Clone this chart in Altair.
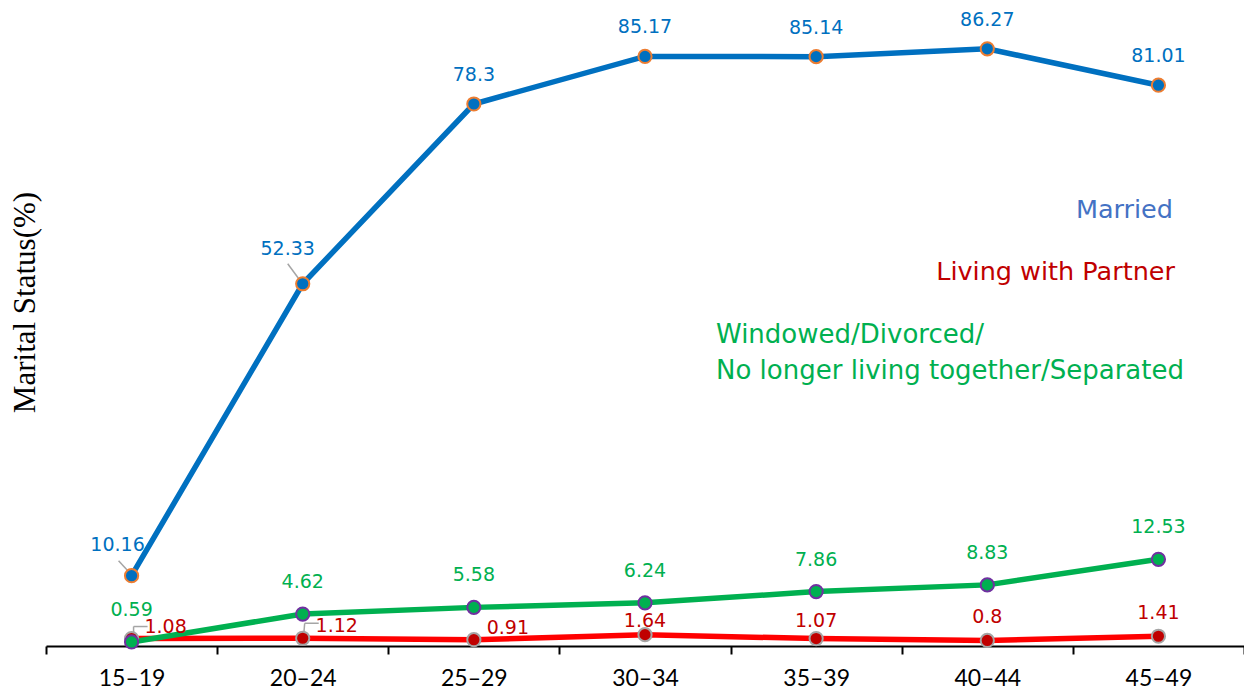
import altair as alt
import pandas as pd

categories = ["15–19", "20–24", "25–29", "30–34", "35–39", "40–44", "45–49"]
married = [10.16, 52.33, 78.3, 85.17, 85.14, 86.27, 81.01]
partner = [1.08, 1.12, 0.91, 1.64, 1.07, 0.8, 1.41]
separated = [0.59, 4.62, 5.58, 6.24, 7.86, 8.83, 12.53]


def frame(values):
    return pd.DataFrame({"age": categories, "value": values,
                         "label": [f"{v:g}" for v in values]})


df_m = frame(married)
df_p = frame(partner)
df_s = frame(separated)

X = alt.X("age:N", sort=categories,
          scale=alt.Scale(type="band", paddingInner=0, paddingOuter=0),
          axis=alt.Axis(title=None, tickBand="extent", labelAngle=0,
                        domainColor="black", domainWidth=2,
                        tickColor="black", tickWidth=2, tickSize=8,
                        labelFont="Lato", labelFontSize=23, labelColor="black",
                        labelPadding=13, grid=False))
Y = alt.Y("value:Q", scale=alt.Scale(domain=[0, 90]),
          axis=alt.Axis(title="Marital Status(%)", domain=False, ticks=False,
                        labels=False, grid=False,
                        titleFont="Liberation Serif", titleFontSize=31,
                        titleFontWeight="normal", titleColor="black",
                        titleX=-21, titleY=279, titleAngle=270,
                        titleAlign="center", titleBaseline="middle"))


def series_layers(df, line_color, fill, stroke):
    c = alt.Chart(df).encode(x=X, y=Y)
    line = c.mark_line(color=line_color, strokeWidth=5.5)
    pts = c.mark_point(filled=True, size=175, fill=fill, stroke=stroke,
                       strokeWidth=2, opacity=1)
    return line, pts


def labels(df, subset, color, dx, dy):
    d = df[df["age"].isin(subset)]
    return alt.Chart(d).mark_text(color=color, font="DejaVu Sans", fontSize=19,
                                  dx=dx, dy=dy).encode(x=X, y=Y, text="label:N")


def leader(df, cat, x1, y1, x2, y2):
    d = df[df["age"] == cat]
    return alt.Chart(d).mark_rule(color="#A5A5A5", strokeWidth=1.5,
                                  xOffset=x1, yOffset=y1,
                                  x2Offset=x2, y2Offset=y2).encode(
        x=X, x2="age:N", y=Y, y2="value:Q")


p_line, p_pts = series_layers(df_p, "#FF0000", "#C00000", "#A5A5A5")
s_line, s_pts = series_layers(df_s, "#00B050", "#00B050", "#7030A0")
m_line, m_pts = series_layers(df_m, "#0070C0", "#0070C0", "#ED7D31")

leaders = [
    leader(df_m, "15–19", -13, -15, -1, -2),
    leader(df_m, "20–24", -15, -20, -1, -1),
    leader(df_p, "15–19", 2, -3, 2, -12),
    leader(df_p, "15–19", 2, -12, 16, -12),
    leader(df_p, "20–24", 1, -4, 2, -15),
    leader(df_p, "20–24", 2, -15, 16, -15),
]

text_layers = [
    labels(df_m, categories[2:], "#0070C0", 0, -29),
    labels(df_m, ["15–19"], "#0070C0", -14, -31),
    labels(df_m, ["20–24"], "#0070C0", -15, -35),
    labels(df_s, categories, "#00B050", 0, -32),
    labels(df_p, ["15–19", "20–24", "25–29"], "#C00000", 34, -12),
    labels(df_p, ["30–34"], "#C00000", 0, -14),
    labels(df_p, ["35–39"], "#C00000", 0, -18),
    labels(df_p, ["40–44", "45–49"], "#C00000", 0, -23),
]

note_married = ["Married"]
note_partner = ["Living with Partner"]
note_separated = ["Windowed/Divorced/", "No longer living together/Separated"]


def note(text, color, align, x, y, size=26):
    return alt.Chart(pd.DataFrame({"t": [text]})).mark_text(
        align=align, baseline="middle", font="DejaVu Sans", fontSize=size,
        color=color).encode(text="t:N", x=alt.value(x), y=alt.value(y))


notes = [
    note(note_married[0], "#4472C4", "right", 1127, 187, 25.5),
    note(note_partner[0], "#C00000", "right", 1129, 249, 25.5),
    note(note_separated[0], "#00B050", "left", 670, 312),
    note(note_separated[1], "#00B050", "left", 670, 348),
]

chart = alt.layer(
    p_line, s_line, m_line, *leaders, p_pts, s_pts, m_pts,
    *text_layers, *notes
).properties(
    width=1198, height=623,
    padding={"left": 38, "top": 15, "right": 0, "bottom": 46},
    autosize=alt.AutoSizeParams(type="none"),
    background="white",
).configure_view(stroke=None)

chart.save("out.html", embed_options={"renderer": "svg", "actions": False})
